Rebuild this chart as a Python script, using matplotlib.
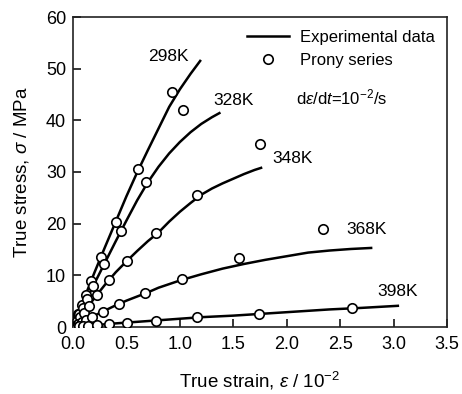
import matplotlib
matplotlib.use("Agg")
import matplotlib.pyplot as plt
from matplotlib.lines import Line2D

plt.rcParams['font.family'] = ['Liberation Sans', 'DejaVu Sans']
plt.rcParams['mathtext.fontset'] = 'custom'
plt.rcParams['mathtext.rm'] = 'Liberation Sans'
plt.rcParams['mathtext.it'] = 'Liberation Sans:italic'
plt.rcParams['mathtext.default'] = 'regular'

# ---- Experimental curves (strain in 1e-2, stress MPa) ----
exp_298_x = [0, 0.1, 0.2, 0.3, 0.4, 0.5, 0.6, 0.7, 0.8, 0.9, 1.0, 1.1, 1.19]
exp_298_y = [0, 5.3, 10.5, 15.5, 20.4, 25.3, 29.9, 34.2, 38.4, 42.6, 46.0, 49.0, 51.5]

exp_328_x = [0, 0.1, 0.2, 0.3, 0.4, 0.5, 0.6, 0.7, 0.8, 0.9, 1.0, 1.1, 1.2, 1.3, 1.37]
exp_328_y = [0, 4.2, 8.4, 12.5, 16.6, 20.6, 24.5, 28.0, 31.0, 33.6, 35.8, 37.7, 39.3, 40.6, 41.4]

exp_348_x = [0, 0.1, 0.2, 0.3, 0.4, 0.5, 0.6, 0.7, 0.8, 0.9, 1.0, 1.1, 1.2, 1.3, 1.4, 1.5, 1.6, 1.7, 1.76]
exp_348_y = [0, 2.8, 5.6, 8.2, 10.6, 12.7, 14.7, 16.6, 18.3, 20.4, 22.3, 24.0, 25.6, 26.8, 27.8, 28.7, 29.6, 30.4, 30.8]

exp_368_x = [0, 0.1, 0.2, 0.3, 0.4, 0.5, 0.6, 0.7, 0.8, 1.0, 1.2, 1.4, 1.6, 1.8, 2.0, 2.2, 2.4, 2.6, 2.79]
exp_368_y = [0, 1.1, 2.2, 3.2, 4.2, 5.1, 5.9, 6.7, 7.6, 9.0, 10.2, 11.3, 12.2, 13.0, 13.7, 14.4, 14.8, 15.1, 15.3]

exp_398_x = [0, 0.2, 0.4, 0.6, 0.8, 1.0, 1.2, 1.5, 1.8, 2.1, 2.4, 2.7, 3.04]
exp_398_y = [0, 0.35, 0.7, 1.0, 1.3, 1.6, 1.9, 2.2, 2.6, 3.0, 3.4, 3.7, 4.1]

# ---- Prony series points ----
pr_298_x = [0.02, 0.03, 0.05, 0.08, 0.12, 0.17, 0.26, 0.40, 0.61, 0.93]
pr_298_y = [1.0, 1.6, 2.6, 4.2, 6.2, 8.9, 13.5, 20.3, 30.5, 45.5]

pr_328_x = [0.02, 0.04, 0.06, 0.09, 0.13, 0.19, 0.29, 0.45, 0.68, 1.03]
pr_328_y = [0.8, 1.6, 2.5, 3.7, 5.4, 7.9, 12.2, 18.6, 28.0, 42.0]

pr_348_x = [0.03, 0.04, 0.07, 0.10, 0.15, 0.22, 0.34, 0.51, 0.78, 1.16, 1.75]
pr_348_y = [0.8, 1.1, 1.9, 2.8, 4.1, 6.2, 9.1, 12.8, 18.2, 25.5, 35.4]

pr_368_x = [0.02, 0.04, 0.05, 0.08, 0.12, 0.18, 0.28, 0.43, 0.67, 1.02, 1.55, 2.34]
pr_368_y = [0.2, 0.4, 0.6, 0.9, 1.4, 2.0, 2.9, 4.5, 6.6, 9.3, 13.3, 19.0]

pr_398_x = [0.04, 0.06, 0.09, 0.14, 0.22, 0.34, 0.51, 0.78, 1.16, 1.74, 2.61]
pr_398_y = [0.07, 0.1, 0.15, 0.25, 0.4, 0.6, 0.8, 1.2, 1.9, 2.5, 3.7]

temps = ['298K', '328K', '348K', '368K', '398K']
label_x = [0.89, 1.50, 2.05, 2.75, 3.04]
label_y = [52.3, 43.9, 32.7, 18.8, 6.8]

x_ticks = [0.0, 0.5, 1.0, 1.5, 2.0, 2.5, 3.0, 3.5]
y_ticks = [0, 10, 20, 30, 40, 50, 60]

fig = plt.figure(figsize=(4.62, 3.94), dpi=100)
ax = fig.add_axes([73/462, 1-327/394, 374/462, 310/394])

exp_sets = [(exp_298_x, exp_298_y), (exp_328_x, exp_328_y), (exp_348_x, exp_348_y),
            (exp_368_x, exp_368_y), (exp_398_x, exp_398_y)]
pr_sets = [(pr_298_x, pr_298_y), (pr_328_x, pr_328_y), (pr_348_x, pr_348_y),
           (pr_368_x, pr_368_y), (pr_398_x, pr_398_y)]

for (ex, ey) in exp_sets:
    ax.plot(ex, ey, color='black', lw=1.8, zorder=2)
for (px, py) in pr_sets:
    ax.plot(px, py, linestyle='none', marker='o', ms=6.8, mfc='white',
            mec='black', mew=1.2, zorder=3)

for t, lx, ly in zip(temps, label_x, label_y):
    ax.text(lx, ly, t, fontsize=12.5, ha='center', va='center')

ax.set_xlim(0, 3.5)
ax.set_ylim(0, 60)
ax.set_xticks(x_ticks)
ax.set_xticklabels([f'{v:.1f}' for v in x_ticks])
ax.set_yticks(y_ticks)
ax.tick_params(direction='in', length=6, width=1.1, labelsize=13, pad=5)
ax.tick_params(axis='x', pad=6.5)
for s in ax.spines.values():
    s.set_linewidth(1.2)
    s.set_color('#222222')

ax.set_xlabel(r'True strain, $\mathit{ε}$ / 10$^{-2}$', fontsize=13.5, labelpad=12)
ax.set_ylabel(r'True stress, $\mathit{σ}$ / MPa', fontsize=13.5, labelpad=11)

handles = [Line2D([], [], color='black', lw=1.8),
           Line2D([], [], linestyle='none', marker='o', ms=6.8, mfc='white', mec='black', mew=1.2)]
leg = ax.legend(handles, ['Experimental data', 'Prony series'], loc='upper left',
                bbox_to_anchor=(247/462, 1-30/394), bbox_transform=fig.transFigure,
                frameon=False, fontsize=12, handlelength=2.5, handletextpad=0.65,
                borderpad=0, borderaxespad=0, labelspacing=0.45)

ax.text(296/462, 1-97/394, r'd$\mathit{ε}$/d$\mathit{t}$=10$^{-2}$/s', fontsize=12,
        transform=fig.transFigure, ha='left', va='center')

fig.savefig('out.png', dpi=100)
